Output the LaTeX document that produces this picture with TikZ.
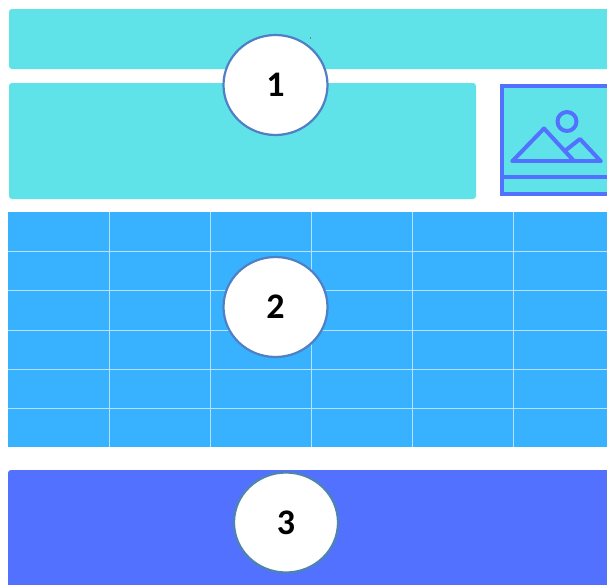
\documentclass[tikz,border=0pt]{standalone}
\usepackage{fontspec}
\usetikzlibrary{shapes.geometric}
\setmainfont{Carlito}
\definecolor{teal1}{HTML}{5FE3E8}
\definecolor{sky1}{HTML}{38B1FF}
\definecolor{indigo1}{HTML}{5271FF}
\definecolor{gridline}{HTML}{B4E2FF}
\definecolor{ringa}{HTML}{4F7FC4}
\definecolor{ringb}{HTML}{4F84AE}
\tikzset{
  panel/.style={fill=#1,draw=none,rounded corners=3pt},
  gridrule/.style={draw=gridline,line width=1pt},
  iconline/.style={draw=indigo1,line width=4pt,line join=round,line cap=round},
  badge/.style={ellipse,fill=white,draw=#1,line width=2.2pt,minimum width=104pt,minimum height=100pt,inner sep=0pt,font=\bfseries\fontsize{36}{40}\selectfont,text=black},
}
\begin{document}
\begin{tikzpicture}[x=1pt,y=-1pt]
\useasboundingbox (0,0) rectangle (607,584);
\fill[white] (0,0) rectangle (607,584);
\begin{scope}
\clip (0,0) rectangle (607,584);
% panels
\path[panel=teal1] (9,9) rectangle (620,69);
\path[panel=teal1] (9,83) rectangle (476,199);
\path[panel=indigo1] (8,470) rectangle (620,600);
\draw[gray,line width=0.6pt] (310,37) -- (310,39);
% table
\fill[sky1] (8,212) rectangle (607,447);
\foreach \gx in {109,210,311,412,513} \draw[gridrule] (\gx,212) -- (\gx,447);
\foreach \gy in {251,290.5,330,369,408} \draw[gridrule] (8,\gy) -- (607,\gy);
% image icon
\fill[teal1] (501,84) rectangle (610,195);
\draw[draw=indigo1,line width=4pt] (610,85.5) -- (502,85.5) -- (502,193.5) -- (610,193.5);
\draw[draw=indigo1,line width=3.6pt] (502,177) -- (610,177);
\draw[iconline] (567,121.5) circle (9.5);
\draw[iconline] (512.5,161) -- (544,128.5) -- (574,161);
\draw[iconline] (566,150) -- (580,139) -- (600.5,161);
\draw[iconline] (512.5,161) -- (600.5,161);
\end{scope}
% badges
\node[badge=ringa] (one) at (275.5,85) {1};
\node[badge=ringa] (two) at (275.5,307) {2};
\node[badge=ringb] (three) at (286,522.5) {3};
\end{tikzpicture}
\end{document}
